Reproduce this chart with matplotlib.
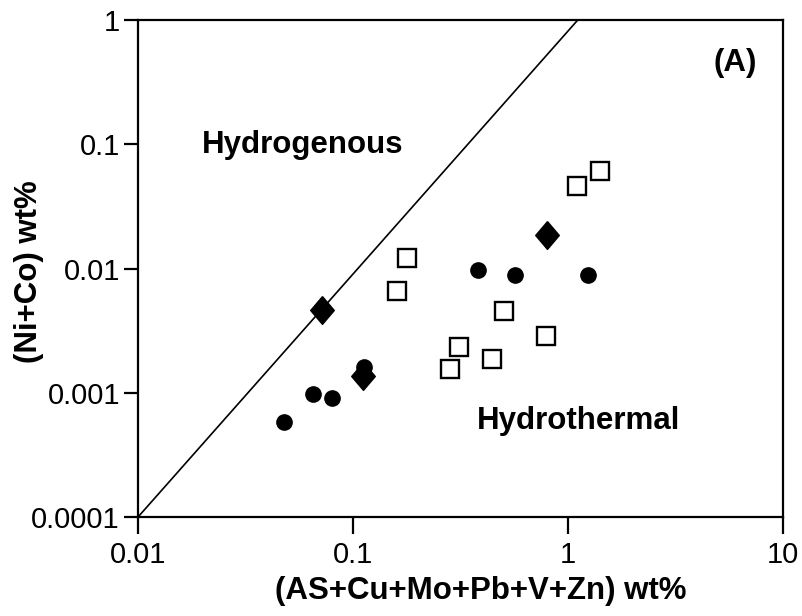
import matplotlib
matplotlib.use("Agg")
import matplotlib.pyplot as plt

plt.rcParams['font.family'] = ['Liberation Sans', 'DejaVu Sans']

# data (wt%)
circle_x = [0.048, 0.065, 0.080, 0.112, 0.383, 0.566, 1.244]
circle_y = [0.00058, 0.00098, 0.00091, 0.00162, 0.0098, 0.0089, 0.0089]

diamond_x = [0.0716, 0.1107, 0.801]
diamond_y = [0.00464, 0.00136, 0.0186]

square_x = [0.178, 0.161, 0.505, 0.787, 0.311, 0.283, 0.445, 1.097, 1.409]
square_y = [0.0122, 0.0066, 0.00455, 0.00286, 0.00232, 0.00155, 0.00186, 0.0464, 0.0609]

# boundary hydrogenous / hydrothermal
line_x = [0.01, 1.11]
line_y = [0.0001, 1.0]

xticks = [0.01, 0.1, 1, 10]
xtick_labels = ['0.01', '0.1', '1', '10']
yticks = [0.0001, 0.001, 0.01, 0.1, 1]
ytick_labels = ['0.0001', '0.001', '0.01', '0.1', '1']

fig = plt.figure(figsize=(8.03, 6.16), dpi=100)
ax = fig.add_axes([0.1719, 0.1607, 0.8032, 0.8068])

ax.plot(line_x, line_y, color='black', lw=1.2, zorder=1)

ax.plot(circle_x, circle_y, 'o', color='black', ms=11, zorder=3)
diamond = [(0, 1), (0.85, 0), (0, -1), (-0.85, 0), (0, 1)]
ax.plot(diamond_x, diamond_y, linestyle='none', marker=diamond, color='black', ms=20, zorder=4)
ax.plot(square_x, square_y, 's', mfc='white', mec='black', mew=1.7, ms=12.5, zorder=3)

ax.set_xscale('log')
ax.set_yscale('log')
ax.set_xlim(0.01, 10)
ax.set_ylim(0.0001, 1)
ax.set_xticks(xticks, xtick_labels)
ax.set_yticks(yticks, ytick_labels)
ax.minorticks_off()

for s in ax.spines.values():
    s.set_linewidth(1.6)
ax.tick_params(axis='x', length=12, width=1.6, labelsize=21, pad=5)
ax.tick_params(axis='y', length=10, width=1.6, labelsize=21, pad=3)

ax.set_xlabel('(AS+Cu+Mo+Pb+V+Zn) wt%', fontsize=22.5, fontweight='bold')
ax.xaxis.set_label_coords(0.532, -0.119)
ax.set_ylabel('(Ni+Co) wt%', fontsize=22.5, fontweight='bold')
ax.yaxis.set_label_coords(-0.146, 0.493)

ax.text(0.0198, 0.0845, 'Hydrogenous', fontsize=22.5, fontweight='bold', va='baseline', ha='left')
ax.text(0.376, 0.000508, 'Hydrothermal', fontsize=22.5, fontweight='bold', va='baseline', ha='left')
ax.text(0.96, 0.897, '(A)', transform=ax.transAxes, fontsize=22.5, fontweight='bold',
        va='baseline', ha='right')

fig.savefig('out.png', dpi=100)
